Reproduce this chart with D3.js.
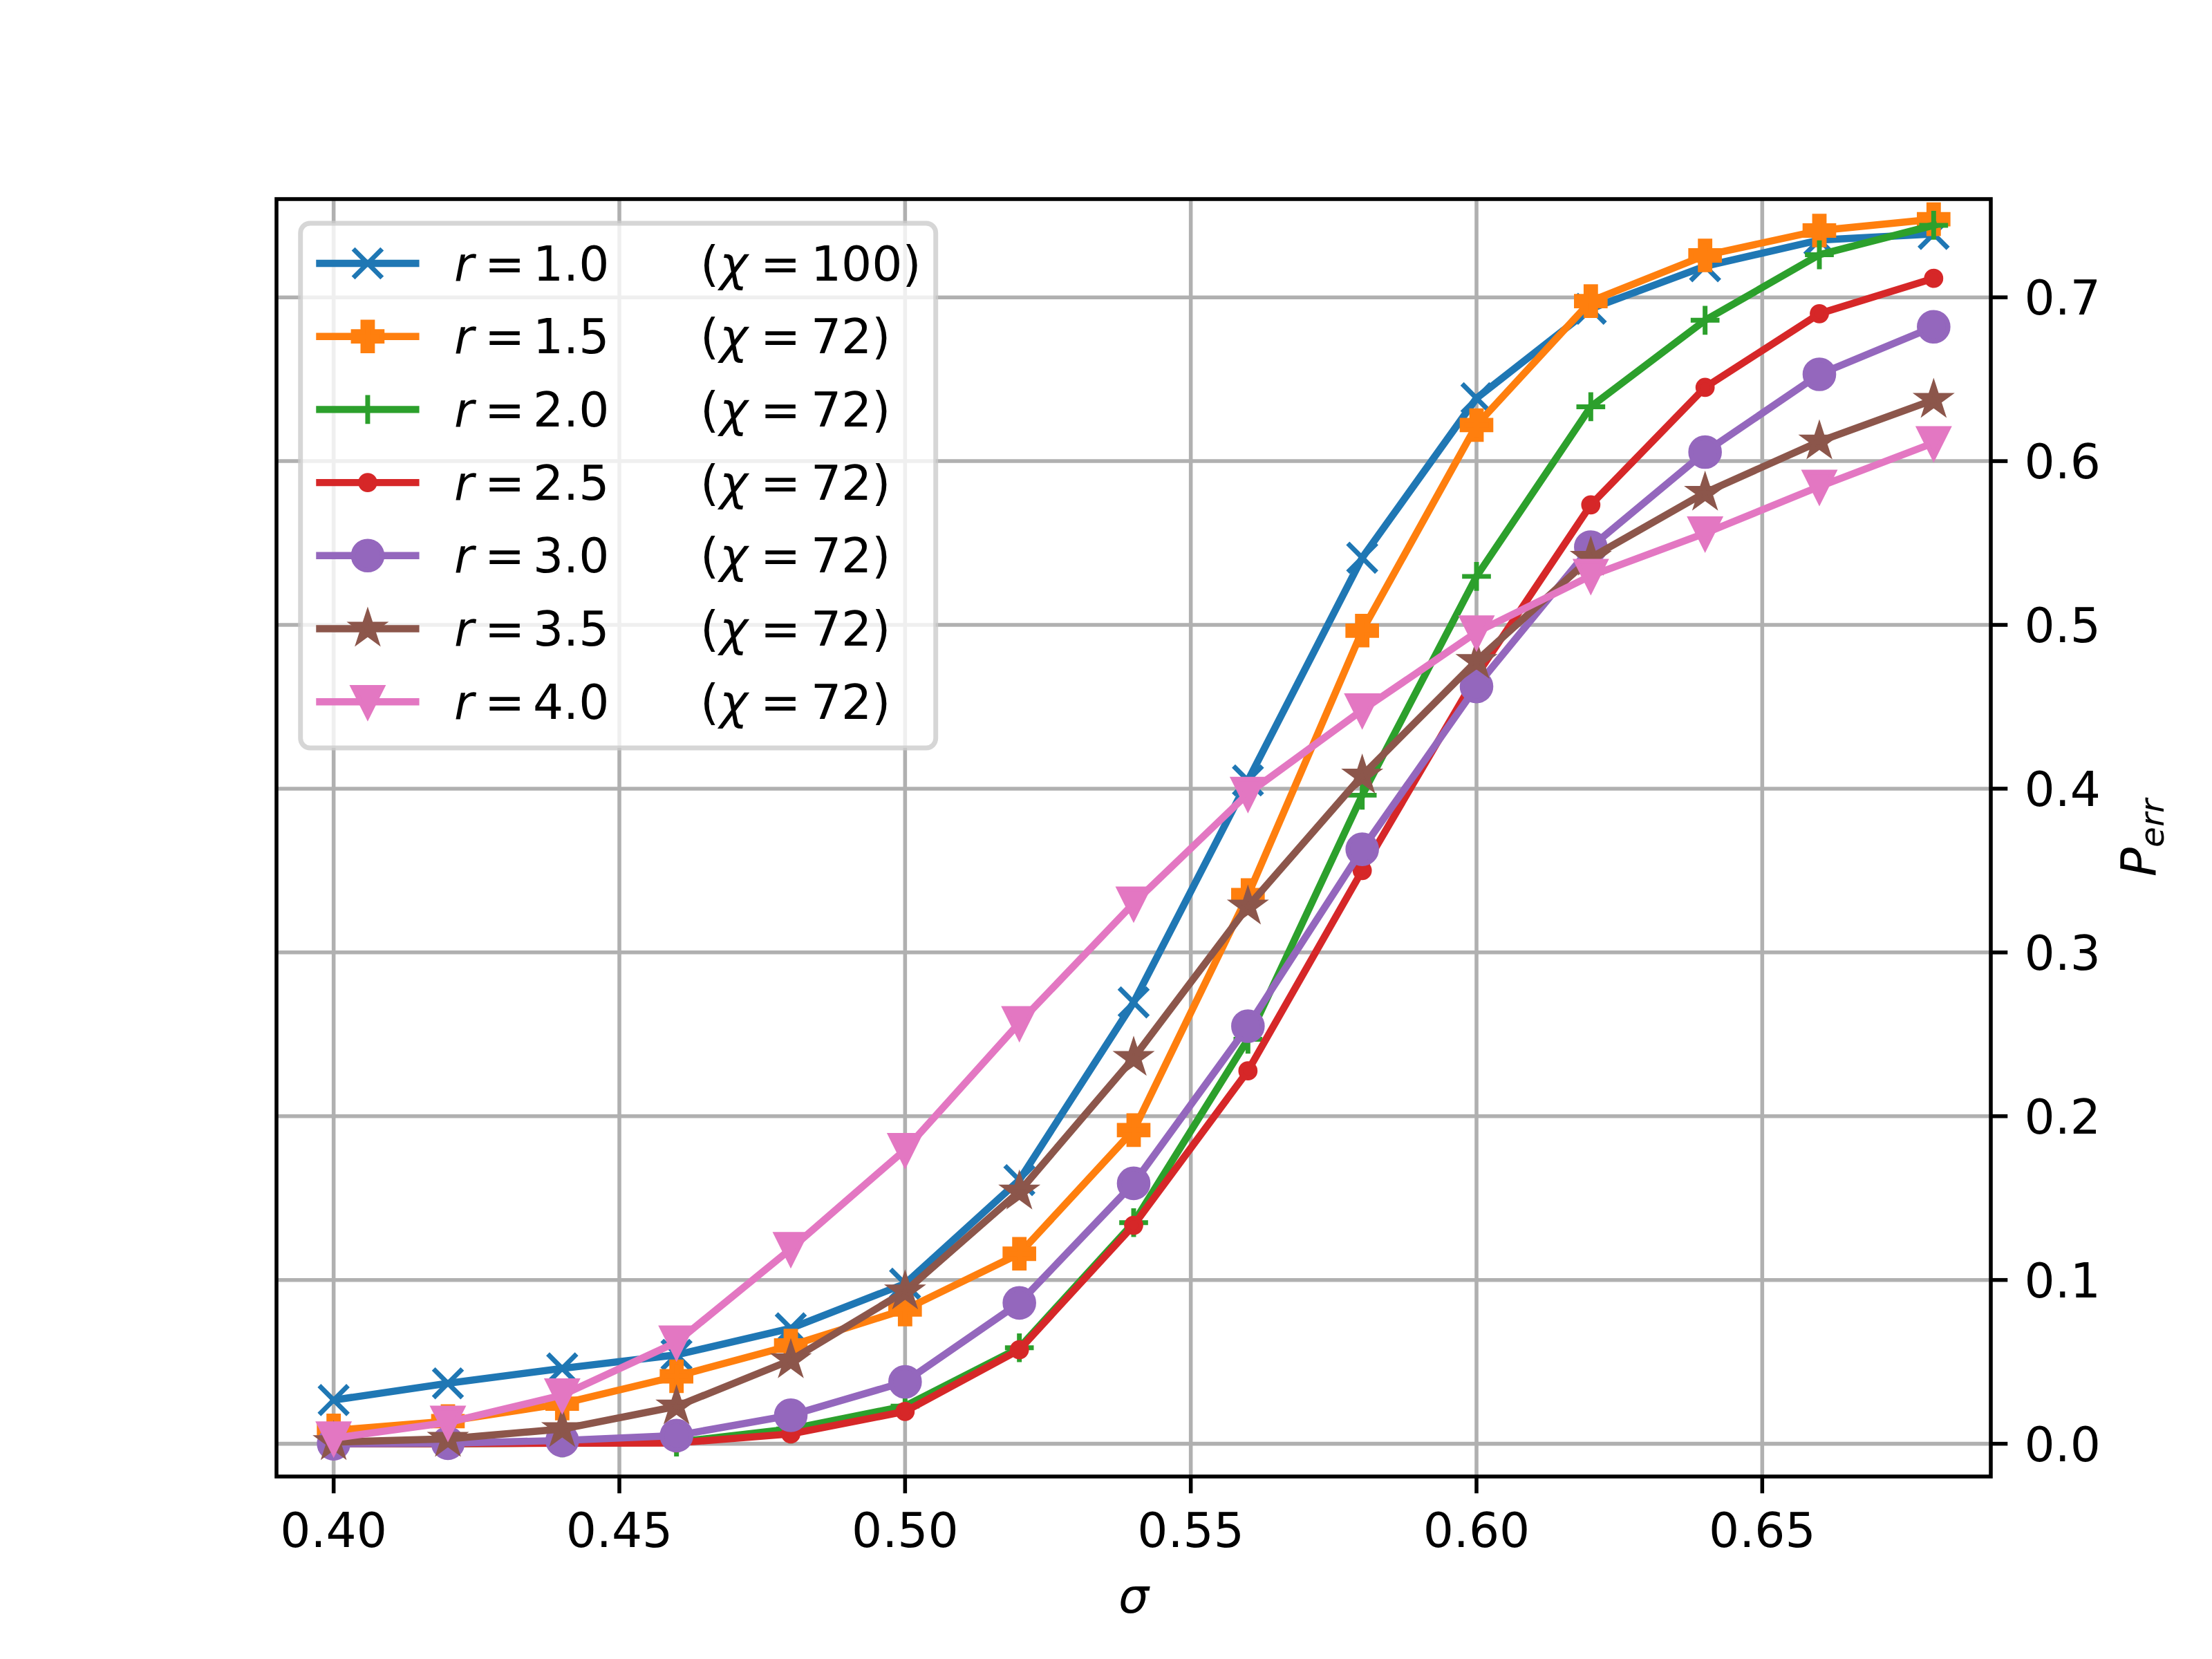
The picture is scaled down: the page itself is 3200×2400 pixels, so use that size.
<!DOCTYPE html>
<html>
<head>
<meta charset="utf-8">
<script src="https://cdn.jsdelivr.net/npm/d3@7"></script>
<style>
  html, body { margin: 0; padding: 0; background: #ffffff; }
  svg { display: block; }
  text { font-family: "DejaVu Sans", sans-serif; }
</style>
</head>
<body>
<script>
// ---------------- data ----------------
const sigma = [0.40, 0.42, 0.44, 0.46, 0.48, 0.50, 0.52, 0.54, 0.56, 0.58, 0.60, 0.62, 0.64, 0.66, 0.68];

const p_r10 = [0.0267, 0.0369, 0.0460, 0.0543, 0.0705, 0.0977, 0.161, 0.2695, 0.405, 0.541, 0.6384, 0.693, 0.719, 0.735, 0.7387];
const p_r15 = [0.0082, 0.0138, 0.0245, 0.0412, 0.060, 0.082, 0.116, 0.1915, 0.335, 0.4965, 0.622, 0.6977, 0.7256, 0.7408, 0.7477];
const p_r20 = [0.0, 0.0, 0.0005, 0.001, 0.009, 0.023, 0.0586, 0.135, 0.247, 0.396, 0.5296, 0.6332, 0.686, 0.726, 0.744];
const p_r25 = [0.0, 0.0, 0.0003, 0.0005, 0.006, 0.0197, 0.0574, 0.1334, 0.2277, 0.350, 0.469, 0.5733, 0.645, 0.690, 0.7116];
const p_r30 = [0.0, 0.0003, 0.002, 0.005, 0.0174, 0.0378, 0.086, 0.159, 0.255, 0.363, 0.4624, 0.5475, 0.6055, 0.653, 0.682];
const p_r35 = [0.001, 0.003, 0.009, 0.0228, 0.051, 0.093, 0.154, 0.2356, 0.328, 0.408, 0.478, 0.541, 0.5807, 0.612, 0.6374];
const p_r40 = [0.0034, 0.013, 0.0297, 0.062, 0.119, 0.1795, 0.257, 0.330, 0.397, 0.448, 0.4955, 0.530, 0.556, 0.5845, 0.6111];

const seriesValues = [p_r10, p_r15, p_r20, p_r25, p_r30, p_r35, p_r40];
const rLabels   = ["1.0", "1.5", "2.0", "2.5", "3.0", "3.5", "4.0"];
const chiLabels = ["100", "72", "72", "72", "72", "72", "72"];
const markers   = ["x", "P", "+", ".", "o", "*", "v"];
const colors    = ["#1f77b4", "#ff7f0e", "#2ca02c", "#d62728", "#9467bd", "#8c564b", "#e377c2"];

const xTicks = [0.40, 0.45, 0.50, 0.55, 0.60, 0.65];
const xTickLabels = ["0.40", "0.45", "0.50", "0.55", "0.60", "0.65"];
const yTicks = [0.0, 0.1, 0.2, 0.3, 0.4, 0.5, 0.6, 0.7];
const yTickLabels = ["0.0", "0.1", "0.2", "0.3", "0.4", "0.5", "0.6", "0.7"];
const xDomain = [0.39, 0.69];
const yDomain = [-0.02, 0.76];

// ---------------- layout ----------------
const W = 3200, H = 2400;
const pt = 500 / 72;             // px per point
const axL = 400, axR = 2880, axT = 288, axB = 2136;
const fs = 10 * pt;              // 69.4 px
const lw = 1.5 * pt;
const ms = 6 * pt;
const mew = 1.0 * pt;
const gridW = 0.8 * pt;
const tickLen = 3.5 * pt;

const svg = d3.select("body").append("svg")
  .attr("width", W).attr("height", H)
  .attr("viewBox", `0 0 ${W} ${H}`);
svg.append("rect").attr("width", W).attr("height", H).attr("fill", "#ffffff");

const x = d3.scaleLinear().domain(xDomain).range([axL, axR]);
const y = d3.scaleLinear().domain(yDomain).range([axB, axT]);

// clip
svg.append("defs").append("clipPath").attr("id", "clip")
  .append("rect").attr("x", axL).attr("y", axT)
  .attr("width", axR - axL).attr("height", axB - axT);

// grid
const grid = svg.append("g").attr("clip-path", "url(#clip)");
grid.selectAll("line.gx").data(xTicks).enter().append("line")
  .attr("x1", d => x(d)).attr("x2", d => x(d))
  .attr("y1", axT).attr("y2", axB)
  .attr("stroke", "#b0b0b0").attr("stroke-width", gridW);
grid.selectAll("line.gy").data(yTicks).enter().append("line")
  .attr("y1", d => y(d)).attr("y2", d => y(d))
  .attr("x1", axL).attr("x2", axR)
  .attr("stroke", "#b0b0b0").attr("stroke-width", gridW);

// marker paths
function markerPath(type, s) {
  const h = s / 2;
  switch (type) {
    case "x": return `M${-h},${-h}L${h},${h}M${-h},${h}L${h},${-h}`;
    case "+": return `M${-h},0L${h},0M0,${-h}L0,${h}`;
    case "P": {
      const a = s / 6;
      return `M${-a},${-h}L${a},${-h}L${a},${-a}L${h},${-a}L${h},${a}L${a},${a}L${a},${h}L${-a},${h}L${-a},${a}L${-h},${a}L${-h},${-a}L${-a},${-a}Z`;
    }
    case "v": return `M0,${h}L${-h},${-h}L${h},${-h}Z`;
    case "*": {
      const ro = h, ri = h * 0.381966;
      let p = "";
      for (let i = 0; i < 10; i++) {
        const r = i % 2 === 0 ? ro : ri;
        const ang = -Math.PI / 2 + i * Math.PI / 5;
        p += (i === 0 ? "M" : "L") + (r * Math.cos(ang)).toFixed(3) + "," + (r * Math.sin(ang)).toFixed(3);
      }
      return p + "Z";
    }
    case "o": return d3.arc()({innerRadius: 0, outerRadius: h, startAngle: 0, endAngle: 2 * Math.PI});
    case ".": return d3.arc()({innerRadius: 0, outerRadius: h / 2, startAngle: 0, endAngle: 2 * Math.PI});
  }
}
function drawMarker(g, type, color) {
  const filled = !(type === "x" || type === "+");
  g.append("path").attr("d", markerPath(type, ms))
    .attr("fill", filled ? color : "none")
    .attr("stroke", color)
    .attr("stroke-width", mew)
    .attr("stroke-linejoin", "miter")
    .attr("stroke-linecap", "butt");
}

// series
const plot = svg.append("g").attr("clip-path", "url(#clip)");
const line = d3.line().x(d => x(d[0])).y(d => y(d[1]));
seriesValues.forEach((vals, i) => {
  const pts = sigma.map((s, j) => [s, vals[j]]);
  const g = plot.append("g");
  g.append("path").attr("d", line(pts))
    .attr("fill", "none").attr("stroke", colors[i])
    .attr("stroke-width", lw)
    .attr("stroke-linejoin", "round").attr("stroke-linecap", "square");
  pts.forEach(p => {
    const mg = g.append("g").attr("transform", `translate(${x(p[0])},${y(p[1])})`);
    drawMarker(mg, markers[i], colors[i]);
  });
});

// spines
svg.append("rect").attr("x", axL).attr("y", axT)
  .attr("width", axR - axL).attr("height", axB - axT)
  .attr("fill", "none").attr("stroke", "#000").attr("stroke-width", gridW);

// x ticks (bottom)
const xa = svg.append("g");
xTicks.forEach((t, i) => {
  xa.append("line").attr("x1", x(t)).attr("x2", x(t))
    .attr("y1", axB).attr("y2", axB + tickLen)
    .attr("stroke", "#000").attr("stroke-width", gridW);
  xa.append("text").attr("x", x(t)).attr("y", 2238)
    .attr("text-anchor", "middle").attr("font-size", fs).attr("fill", "#000")
    .text(xTickLabels[i]);
});
// y ticks (right)
const ya = svg.append("g");
yTicks.forEach((t, i) => {
  ya.append("line").attr("x1", axR).attr("x2", axR + tickLen)
    .attr("y1", y(t)).attr("y2", y(t))
    .attr("stroke", "#000").attr("stroke-width", gridW);
  ya.append("text").attr("x", axR + tickLen + 3.5 * pt).attr("y", y(t) + 25.3)
    .attr("text-anchor", "start").attr("font-size", fs).attr("fill", "#000")
    .text(yTickLabels[i]);
});

// axis labels
svg.append("text").attr("x", (axL + axR) / 2).attr("y", 2333)
  .attr("text-anchor", "middle").attr("font-size", fs).attr("font-style", "italic")
  .text("σ");
const yl = svg.append("text")
  .attr("transform", `translate(3118,${(axT + axB) / 2}) rotate(-90)`)
  .attr("text-anchor", "middle").attr("font-size", fs).attr("font-style", "italic");
yl.append("tspan").text("P");
yl.append("tspan").attr("font-size", fs * 0.7).attr("dy", 12).text("err");

// legend
const lg = svg.append("g");
const lgX = 434.7, lgY = 323, lgW = 919, lgH = 759;
lg.append("rect").attr("x", lgX).attr("y", lgY).attr("width", lgW).attr("height", lgH)
  .attr("rx", 0.2 * fs).attr("ry", 0.2 * fs)
  .attr("fill", "#ffffff").attr("fill-opacity", 0.8)
  .attr("stroke", "#cccccc").attr("stroke-opacity", 0.8).attr("stroke-width", 1.0 * pt);
const row0 = 381, rowStep = 105.7;
const hx0 = lgX + 0.4 * fs, hx1 = hx0 + 2.0 * fs;
const tx0 = hx1 + 0.8 * fs;
rLabels.forEach((r, i) => {
  const ry = row0 + i * rowStep;
  lg.append("line").attr("x1", hx0).attr("x2", hx1).attr("y1", ry).attr("y2", ry)
    .attr("stroke", colors[i]).attr("stroke-width", lw).attr("stroke-linecap", "square");
  const mg = lg.append("g").attr("transform", `translate(${(hx0 + hx1) / 2},${ry})`);
  drawMarker(mg, markers[i], colors[i]);
  const t = lg.append("text").attr("y", ry + 24.5).attr("font-size", fs).attr("fill", "#000");
  const parts = [
    {s: "r", it: true, dx: 0},
    {s: "=", dx: 44},
    {s: r, dx: 114},
    {s: "(", dx: 356},
    {s: "χ", it: true, dx: 384},
    {s: "=", dx: 443},
    {s: chiLabels[i] + ")", dx: 516}
  ];
  parts.forEach(p => {
    const ts = t.append("tspan").attr("x", tx0 + p.dx).text(p.s);
    if (p.it) ts.attr("font-style", "italic");
  });
});
</script>
</body>
</html>
